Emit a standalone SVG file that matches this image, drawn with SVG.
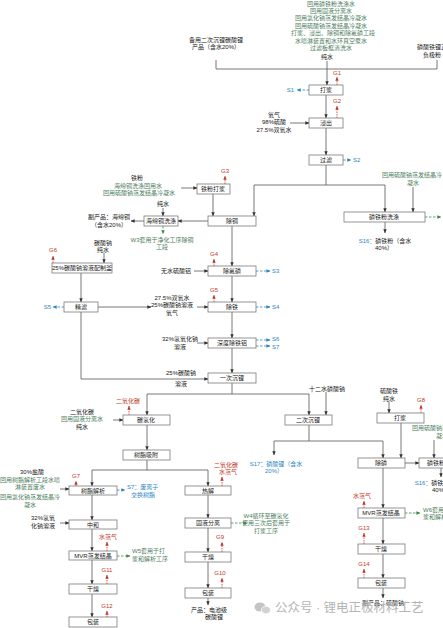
<svg xmlns="http://www.w3.org/2000/svg" width="443" height="628" viewBox="0 0 443 628">
<style>
text{font-family:"Liberation Sans","Noto Sans CJK SC",sans-serif;font-size:6px;fill:#222;text-anchor:middle;dominant-baseline:central}
.g{fill:#4d7d5e}
.r{fill:#c0392b}
.b{fill:#2e86c1}
.k{fill:#222}
.s{text-anchor:start}
.e{text-anchor:end}
rect{fill:#fff;stroke:#7a7a7a;stroke-width:0.8}
.ln{fill:none;stroke:#555;stroke-width:0.8}
.lb{fill:none;stroke:#2e86c1;stroke-width:0.8;stroke-dasharray:2.5 1.5}
.lg{fill:none;stroke:#3a8a4a;stroke-width:0.8;stroke-dasharray:2.5 1.5}
.lr{fill:none;stroke:#c0392b;stroke-width:0.8;stroke-dasharray:1.5 1}
.wm{font-size:12.5px;fill:#b5b5b5;text-anchor:start}
</style>
<defs>
<marker id="ak" viewBox="0 0 6 6" refX="5.5" refY="3" markerWidth="4" markerHeight="4" markerUnits="userSpaceOnUse" orient="auto"><path d="M0,0.5L6,3L0,5.5z" fill="#333"/></marker>
<marker id="ab" viewBox="0 0 6 6" refX="5.5" refY="3" markerWidth="4" markerHeight="4" markerUnits="userSpaceOnUse" orient="auto"><path d="M0,0.5L6,3L0,5.5z" fill="#2e86c1"/></marker>
<marker id="ag" viewBox="0 0 6 6" refX="5.5" refY="3" markerWidth="4" markerHeight="4" markerUnits="userSpaceOnUse" orient="auto"><path d="M0,0.5L6,3L0,5.5z" fill="#3a8a4a"/></marker>
<marker id="ar" viewBox="0 0 6 6" refX="5.5" refY="3" markerWidth="4" markerHeight="4" markerUnits="userSpaceOnUse" orient="auto"><path d="M0,0.5L6,3L0,5.5z" fill="#c0392b"/></marker>
</defs>

<g id="connectors">
<path class="ln" d="M216,60V69H437V60"/>
<path class="ln" d="M327,61V85" marker-end="url(#ak)"/>
<path class="ln" d="M326,95V118" marker-end="url(#ak)"/>
<path class="ln" d="M290,123H309" marker-end="url(#ak)"/>
<path class="ln" d="M326,128V155" marker-end="url(#ak)"/>
<path class="ln" d="M326,165V185H254V216" marker-end="url(#ak)"/>
<path class="ln" d="M326,185H385V212" marker-end="url(#ak)"/>
<path class="ln" d="M413,187V212" marker-end="url(#ak)"/>
<path class="ln" d="M385,222V233" marker-end="url(#ak)"/>
<path class="ln" d="M181,188H197" marker-end="url(#ak)"/>
<path class="ln" d="M213,194V216" marker-end="url(#ak)"/>
<path class="ln" d="M208,221H178" marker-end="url(#ak)"/>
<path class="ln" d="M144,221H131" marker-end="url(#ak)"/>
<path class="ln" d="M163,208V216" marker-end="url(#ak)"/>
<path class="lg" d="M163,226V234" marker-end="url(#ag)"/>
<path class="ln" d="M232,226V266" marker-end="url(#ak)"/>
<path class="ln" d="M194,271H208" marker-end="url(#ak)"/>
<path class="lb" d="M256,271H270" marker-end="url(#ab)"/>
<path class="ln" d="M232,276V302" marker-end="url(#ak)"/>
<path class="ln" d="M197,307H208" marker-end="url(#ak)"/>
<path class="lb" d="M256,307H270" marker-end="url(#ab)"/>
<path class="ln" d="M232,312V338" marker-end="url(#ak)"/>
<path class="ln" d="M197,343H208" marker-end="url(#ak)"/>
<path class="lb" d="M256,340H270" marker-end="url(#ab)"/>
<path class="lb" d="M256,346H270" marker-end="url(#ab)"/>
<path class="ln" d="M232,348V373" marker-end="url(#ak)"/>
<path class="ln" d="M104,253V263" marker-end="url(#ak)"/>
<path class="ln" d="M81,273V302" marker-end="url(#ak)"/>
<path class="lb" d="M64,307H53" marker-end="url(#ab)"/>
<path class="ln" d="M98,307H151" marker-end="url(#ak)"/>
<path class="ln" d="M81,312V379H208" marker-end="url(#ak)"/>
<path class="ln" d="M232,383V394H147V415" marker-end="url(#ak)"/>
<path class="ln" d="M232,394H309V415" marker-end="url(#ak)"/>
<path class="ln" d="M326,392V415" marker-end="url(#ak)"/>
<path class="ln" d="M309,425V441H274V455" marker-end="url(#ak)"/>
<path class="ln" d="M309,441H383V458" marker-end="url(#ak)"/>
<path class="ln" d="M389,402V413" marker-end="url(#ak)"/>
<path class="ln" d="M401,423V458" marker-end="url(#ak)"/>
<path class="ln" d="M405,463H419" marker-end="url(#ak)"/>
<path class="ln" d="M434,440V458" marker-end="url(#ak)"/>
<path class="ln" d="M441,468V477" marker-end="url(#ak)"/>
<path class="ln" d="M383,468V508" marker-end="url(#ak)"/>
<path class="lg" d="M405,513H420" marker-end="url(#ag)"/>
<path class="ln" d="M383,518V544" marker-end="url(#ak)"/>
<path class="ln" d="M383,554V578" marker-end="url(#ak)"/>
<path class="ln" d="M383,588V598" marker-end="url(#ak)"/>
<path class="ln" d="M113,420H123" marker-end="url(#ak)"/>
<path class="ln" d="M147,425V450" marker-end="url(#ak)"/>
<path class="ln" d="M147,460V470H92V486" marker-end="url(#ak)"/>
<path class="ln" d="M147,470H208V486" marker-end="url(#ak)"/>
<path class="ln" d="M60,489H69" marker-end="url(#ak)"/>
<path class="lb" d="M117,490H125" marker-end="url(#ab)"/>
<path class="ln" d="M92,495V520" marker-end="url(#ak)"/>
<path class="ln" d="M60,523H69" marker-end="url(#ak)"/>
<path class="ln" d="M92,529V551" marker-end="url(#ak)"/>
<path class="lg" d="M117,556H130" marker-end="url(#ag)"/>
<path class="ln" d="M92,560V584" marker-end="url(#ak)"/>
<path class="ln" d="M92,594V617" marker-end="url(#ak)"/>
<path class="ln" d="M208,495V518" marker-end="url(#ak)"/>
<path class="lg" d="M231,523H247" marker-end="url(#ag)"/>
<path class="ln" d="M208,528V552" marker-end="url(#ak)"/>
<path class="ln" d="M208,562V588" marker-end="url(#ak)"/>
<path class="ln" d="M208,598V605" marker-end="url(#ak)"/>
<path class="lg" d="M425,217H441" marker-end="url(#ag)"/>
<path class="lb" d="M309,90H297" marker-end="url(#ab)"/>
<path class="lb" d="M343,160H351" marker-end="url(#ab)"/>
<path class="lr" d="M337,85V77" marker-end="url(#ar)"/>
<path class="lr" d="M337,118V106" marker-end="url(#ar)"/>
<path class="lr" d="M225,184V176" marker-end="url(#ar)"/>
<path class="lr" d="M214,266V259" marker-end="url(#ar)"/>
<path class="lr" d="M214,302V295" marker-end="url(#ar)"/>
<path class="lr" d="M53,263V256" marker-end="url(#ar)"/>
<path class="lr" d="M421,413V405" marker-end="url(#ar)"/>
<path class="lr" d="M129,415V406" marker-end="url(#ar)"/>
<path class="lr" d="M76,486V481" marker-end="url(#ar)"/>
<path class="lr" d="M222,486V477" marker-end="url(#ar)"/>
<path class="lr" d="M222,552V542" marker-end="url(#ar)"/>
<path class="lr" d="M222,588V578" marker-end="url(#ar)"/>
<path class="lr" d="M107,551V542" marker-end="url(#ar)"/>
<path class="lr" d="M107,584V575" marker-end="url(#ar)"/>
<path class="lr" d="M107,617V611" marker-end="url(#ar)"/>
<path class="lr" d="M364,508V501" marker-end="url(#ar)"/>
<path class="lr" d="M364,544V533" marker-end="url(#ar)"/>
<path class="lr" d="M364,578V569" marker-end="url(#ar)"/>
</g>

<g id="labels">
<text class="g" x="331" y="4">回用磷铁粉洗涤水</text>
<text class="g" x="331" y="11">回用固液分离水</text>
<text class="g" x="331" y="18">回用氯化钠蒸发结晶冷凝水</text>
<text class="g" x="331" y="26">回用硫酸钠蒸发结晶冷凝水</text>
<text class="g" x="333" y="33">打浆、浸出、除铜和除氟磷工段</text>
<text class="g" x="331" y="41">水喷淋装置和水环真空泵水</text>
<text class="g" x="331" y="48">过滤板框清洗水</text>
<text x="327" y="57">纯水</text>
<text x="216" y="40">备用二次沉锂碳酸锂</text>
<text x="216" y="47">产品（含水20%）</text>
<text x="432" y="47">磷酸铁锂正</text>
<text x="432" y="55">负极粉</text>
<text class="r" x="337" y="73">G1</text>
<text class="r" x="337" y="101">G2</text>
<text class="b e" x="294" y="90">S1</text>
<text x="274" y="115">氧气</text>
<text x="274" y="122">98%硫酸</text>
<text x="274" y="130">27.5%双氧水</text>
<text class="b s" x="353" y="160">S2</text>
<text class="g" x="412" y="175">回用硫酸钠蒸发结晶冷</text>
<text class="g" x="413" y="183">凝水</text>
<text x="385" y="241"><tspan class="b">S16：</tspan>磷铁粉（含水</text>
<text x="384" y="248">40%）</text>
<text x="137" y="178">铁粉</text>
<text class="g" x="138" y="186">海绵铜洗涤回用水</text>
<text class="g" x="139" y="193">回用硫酸钠蒸发结晶冷凝水</text>
<text class="r" x="225" y="171">G3</text>
<text x="163" y="204">纯水</text>
<text x="109" y="217">副产品：海绵铜</text>
<text x="109" y="225">（含水20%）</text>
<text class="g" x="162" y="240">W3套用于净化工序除铜</text>
<text class="g" x="162" y="247">工段</text>
<text class="r" x="214" y="254">G4</text>
<text x="176" y="271">无水硫酸铝</text>
<text class="b s" x="272" y="271">S3</text>
<text class="r" x="214" y="290">G5</text>
<text x="172" y="298">27.5%双氧水</text>
<text x="172" y="305">25%碳酸钠溶液</text>
<text x="172" y="313">氧气</text>
<text class="b s" x="272" y="307">S4</text>
<text x="180" y="339">32%氢氧化钠</text>
<text x="180" y="347">溶液</text>
<text class="b s" x="272" y="339">S6</text>
<text class="b s" x="272" y="347">S7</text>
<text x="181" y="373">25%碳酸钠</text>
<text x="181" y="384">溶液</text>
<text x="103" y="243">碳酸钠</text>
<text x="103" y="250">纯水</text>
<text class="r" x="53" y="250">G6</text>
<text class="b e" x="51" y="307">S5</text>
<text x="327" y="389">十二水磷酸钠</text>
<text class="b" x="276" y="464">S17：磷酸锂（含水</text>
<text class="b" x="274" y="471">20%）</text>
<text x="389" y="391">硫酸铁</text>
<text x="389" y="399">纯水</text>
<text class="r" x="421" y="400">G8</text>
<text class="g" x="442" y="428">回用硫酸钠蒸发结晶冷</text>
<text class="g" x="442" y="436">凝水</text>
<text x="441" y="483"><tspan class="b">S16：</tspan>磷铁粉（含水</text>
<text x="441" y="490">40%）</text>
<text class="r" x="362" y="496">水蒸气</text>
<text class="g s" x="423" y="510">W6套用于打</text>
<text class="g s" x="423" y="517">浆和解析工序</text>
<text class="r" x="364" y="528">G13</text>
<text class="r" x="364" y="564">G14</text>
<text x="383" y="603">副产品：硫酸钠</text>
<text class="r" x="128" y="401">二氧化碳</text>
<text x="82" y="412">二氧化碳</text>
<text class="g" x="82" y="419">回用固液分离水</text>
<text x="82" y="427">纯水</text>
<text x="32" y="472">30%盐酸</text>
<text class="g" x="30" y="480">回用树脂解析工段水喷</text>
<text class="g" x="30" y="487">淋装置废水</text>
<text class="g" x="30" y="497">回用氯化钠蒸发结晶冷</text>
<text class="g" x="30" y="505">凝水</text>
<text class="r" x="76" y="476">G7</text>
<text class="b s" x="127" y="487">S7：废离子</text>
<text class="b" x="143" y="495">交换树脂</text>
<text x="43" y="518">32%氢氧</text>
<text x="43" y="526">化钠溶液</text>
<text class="r" x="108" y="537">水蒸气</text>
<text class="g s" x="132" y="551">W5套用于打</text>
<text class="g s" x="132" y="559">浆和解析工序</text>
<text class="r" x="107" y="570">G11</text>
<text class="r" x="107" y="606">G12</text>
<text class="r" x="226" y="465">二氧化碳</text>
<text class="r" x="228" y="472">水蒸气</text>
<text class="g" x="266" y="516">W4循环至碳氢化</text>
<text class="g" x="266" y="523">使用三次后套用于</text>
<text class="g" x="266" y="531">打浆工序</text>
<text class="r" x="220" y="537">G9</text>
<text class="r" x="220" y="573">G10</text>
<text x="209" y="610">产品：电池级</text>
<text x="214" y="617">碳酸锂</text>
</g>

<g id="n-dajiang1"><rect x="309" y="85" width="34" height="10"/><text x="326" y="90">打浆</text></g>
<g id="n-jinchu"><rect x="309" y="118" width="34" height="10"/><text x="326" y="123">浸出</text></g>
<g id="n-guolv"><rect x="309" y="155" width="34" height="10"/><text x="326" y="160">过滤</text></g>
<g id="n-lintiefen1"><rect x="344" y="212" width="81" height="10"/><text x="384" y="217">磷铁粉洗涤</text></g>
<g id="n-tiefendajiang"><rect x="197" y="184" width="33" height="10"/><text x="213" y="189">铁粉打浆</text></g>
<g id="n-chutong"><rect x="208" y="216" width="48" height="10"/><text x="232" y="221">除铜</text></g>
<g id="n-haimiantong"><rect x="144" y="216" width="34" height="10"/><text x="161" y="221">海绵铜洗涤</text></g>
<g id="n-chufu"><rect x="208" y="266" width="48" height="10"/><text x="232" y="271">除氟磷</text></g>
<g id="n-chutie"><rect x="208" y="302" width="48" height="10"/><text x="232" y="307">除铁</text></g>
<g id="n-shendu"><rect x="208" y="338" width="48" height="10"/><text x="232" y="343">深度除铁铝</text></g>
<g id="n-yici"><rect x="208" y="373" width="48" height="10"/><text x="232" y="378">一次沉锂</text></g>
<g id="n-peizhi"><rect x="52" y="263" width="60" height="10"/><text x="82" y="268">25%碳酸钠溶液配制釜</text></g>
<g id="n-jinglv"><rect x="64" y="302" width="34" height="10"/><text x="81" y="307">精滤</text></g>
<g id="n-erci"><rect x="285" y="415" width="47" height="10"/><text x="308" y="420">二次沉锂</text></g>
<g id="n-dajiang2"><rect x="377" y="413" width="47" height="10"/><text x="400" y="418">打浆</text></g>
<g id="n-chulin"><rect x="358" y="458" width="47" height="10"/><text x="381" y="463">除磷</text></g>
<g id="n-lintiefen2"><rect x="419" y="458" width="47" height="10"/><text x="442" y="463">磷铁粉洗涤</text></g>
<g id="n-mvr2"><rect x="358" y="508" width="47" height="10"/><text x="381" y="513">MVR蒸发结晶</text></g>
<g id="n-ganzao3"><rect x="358" y="544" width="47" height="10"/><text x="381" y="549">干燥</text></g>
<g id="n-baozhuang3"><rect x="358" y="578" width="47" height="10"/><text x="381" y="583">包装</text></g>
<g id="n-tanqinghua"><rect x="123" y="415" width="47" height="10"/><text x="146" y="420">碳氢化</text></g>
<g id="n-xifu"><rect x="123" y="450" width="47" height="10"/><text x="146" y="455">树脂吸附</text></g>
<g id="n-jiexi"><rect x="69" y="486" width="48" height="9"/><text x="93" y="490.5">树脂解析</text></g>
<g id="n-zhonghe"><rect x="69" y="520" width="48" height="9"/><text x="93" y="524.5">中和</text></g>
<g id="n-mvr1"><rect x="69" y="551" width="48" height="9"/><text x="93" y="555.5">MVR蒸发结晶</text></g>
<g id="n-ganzao1"><rect x="69" y="584" width="48" height="10"/><text x="93" y="589">干燥</text></g>
<g id="n-baozhuang1"><rect x="69" y="617" width="48" height="10"/><text x="93" y="622">包装</text></g>
<g id="n-rejie"><rect x="185" y="486" width="46" height="9"/><text x="208" y="490.5">热解</text></g>
<g id="n-guye"><rect x="185" y="518" width="46" height="10"/><text x="208" y="523">固液分离</text></g>
<g id="n-ganzao2"><rect x="185" y="552" width="46" height="10"/><text x="208" y="557">干燥</text></g>
<g id="n-baozhuang2"><rect x="185" y="588" width="46" height="10"/><text x="208" y="593">包装</text></g>

<g id="watermark">
<ellipse cx="260" cy="607" rx="5.5" ry="4.5" fill="#c4c4c4"/>
<ellipse cx="266" cy="610" rx="4.5" ry="3.8" fill="#d2d2d2" stroke="#fff" stroke-width="0.8"/>
<text class="wm" x="275" y="608">公众号 · 锂电正极材料工艺</text>
</g>
</svg>
